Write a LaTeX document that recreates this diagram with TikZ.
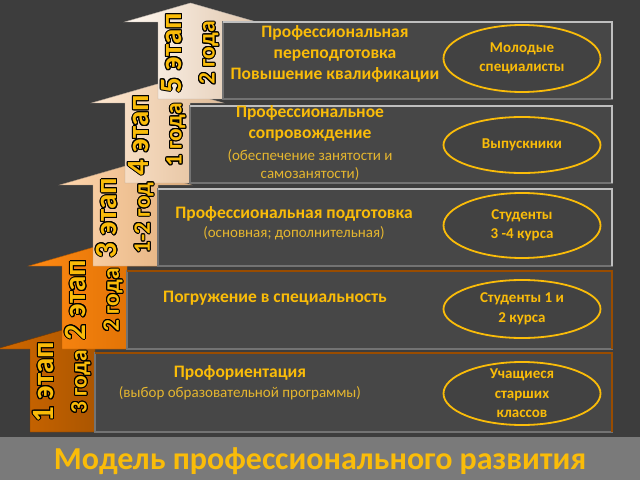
\documentclass[tikz,border=0pt]{standalone}
\usepackage{fontspec}
\setmainfont{Carlito}
\usepackage{contour}
\contourlength{1pt}

\begin{document}
\begin{tikzpicture}[x=1pt,y=1pt,
  rowbox/.style={fill=black!72,draw=black!55,line width=1.5pt},
  rimgray/.style={draw=black!25,line width=2pt},
  rimbrown/.style={draw=orange!60!black,line width=2pt},
  oval/.style={draw=yellow!50!orange,line width=1.8pt,fill=black!74},
  lead/.style={text=yellow!50!orange,font=\bfseries\fontsize{17.5}{21}\selectfont,align=center},
  ovaltext/.style={text=yellow!50!orange,font=\bfseries\fontsize{15}{19.5}\selectfont,align=center},
  stagetext/.style={text=yellow!50!orange,font=\bfseries\fontsize{23.5}{33}\selectfont,align=center,rotate=90},
  title/.style={text=yellow!50!orange,font=\bfseries\fontsize{32}{36}\selectfont}
]
\useasboundingbox (0,0) rectangle (640,480);
\fill[black!76] (0,0) rectangle (640,480);
\fill[black!52] (0,0) rectangle (640,43);
\node[title] (heading) at (320,19) {Модель профессионального развития};

\draw[left color=orange!82!black,right color=orange!62!black,draw=orange!45!black,thin] (30,48) -- (30,131) -- (-3.5,131) -- (62.5,150) -- (128.5,131) -- (95,131) -- (95,48) -- cycle;
\draw[left color=orange!92!white,right color=orange!85!black,draw=orange!70!black,thin] (62,131) -- (62,214) -- (28.5,214) -- (94.5,233) -- (160.5,214) -- (127,214) -- (127,131) -- cycle;
\draw[left color=orange!32!white,right color=orange!45!white!88!black,draw=orange!40!black!50,thin] (93,214) -- (93,295) -- (59.5,295) -- (125.5,314) -- (191.5,295) -- (158,295) -- (158,214) -- cycle;
\draw[left color=orange!18!white,right color=orange!32!white!88!black,draw=orange!30!black!40,thin] (125,297) -- (125,377) -- (91.5,377) -- (157.5,396) -- (223.5,377) -- (190,377) -- (190,297) -- cycle;
\draw[left color=orange!6!white,right color=orange!22!white!88!black,draw=orange!20!black!35,thin] (158,381) -- (158,458) -- (124.5,458) -- (190.5,477) -- (256.5,458) -- (223,458) -- (223,381) -- cycle;

\node[stagetext] (stage1) at (62.5,98) {{\fontsize{31}{34}\selectfont\contour{black}{1 этап}}\\\contour{black}{3 года}};
\node[stagetext] (stage2) at (94.5,180) {{\fontsize{31}{34}\selectfont\contour{black}{2 этап}}\\\contour{black}{2 года}};
\node[stagetext] (stage3) at (125.5,262) {{\fontsize{31}{34}\selectfont\contour{black}{3 этап}}\\\contour{black}{1-2 год}};
\node[stagetext] (stage4) at (157.5,345) {{\fontsize{31}{34}\selectfont\contour{black}{4 этап}}\\\contour{black}{1 года}};
\node[stagetext] (stage5) at (190.5,427) {{\fontsize{31}{34}\selectfont\contour{black}{5 этап}}\\\contour{black}{2 года}};

\draw[rowbox] (95,48) rectangle (612,127);
\draw[rimbrown] (95,127) -- (612,127) -- (612,48);
\draw[rowbox] (127,131) rectangle (612,209);
\draw[rimbrown] (127,209) -- (612,209) -- (612,131);
\draw[rowbox] (158,214) rectangle (612,291);
\draw[rimgray] (158,291) -- (612,291) -- (612,214);
\draw[rowbox] (190,297) rectangle (612,374);
\draw[rimgray] (190,374) -- (612,374) -- (612,297);
\draw[rowbox] (223,381) rectangle (612,458);
\draw[rimgray] (223,458) -- (612,458) -- (612,381);

\node[lead] (guidance) at (240,97) {Профориентация\\[-1pt]{\mdseries\fontsize{15}{18}\selectfont\color{yellow!50!orange!80!gray}(выбор образовательной программы)}};
\node[lead] (immersion) at (275,182) {Погружение в специальность};
\node[lead] (training) at (294,256.5) {Профессиональная подготовка\\[-2pt]{\mdseries\fontsize{15}{18}\selectfont\color{yellow!50!orange!80!gray}(основная; дополнительная)}};
\node[lead] (support) at (310,336.5) {Профессиональное\\сопровождение\\[1pt]{\mdseries\fontsize{15}{18}\selectfont\color{yellow!50!orange!80!gray}(обеспечение занятости и}\\[-3pt]{\mdseries\fontsize{15}{18}\selectfont\color{yellow!50!orange!80!gray}самозанятости)}};
\node[lead] (retrain) at (335,426) {Профессиональная\\переподготовка\\Повышение квалификации};

\draw[oval] (522,86.5) ellipse (78.5 and 31.5);
\node[ovaltext] (pupils) at (522,86.5) {Учащиеся\\старших\\классов};
\draw[oval] (522,171) ellipse (78.5 and 29);
\node[ovaltext] (juniors) at (522,171) {Студенты 1 и\\2 курса};
\draw[oval] (522,254.5) ellipse (78.5 and 32.5);
\node[ovaltext] (seniors) at (522,254.5) {Студенты\\3 -4 курса};
\draw[oval] (522,335) ellipse (78.5 and 28);
\node[ovaltext] (graduates) at (522,335) {Выпускники};
\draw[oval] (522,421.5) ellipse (78.5 and 33.5);
\node[ovaltext] (young) at (522,421.5) {Молодые\\специалисты};

\end{tikzpicture}
\end{document}
